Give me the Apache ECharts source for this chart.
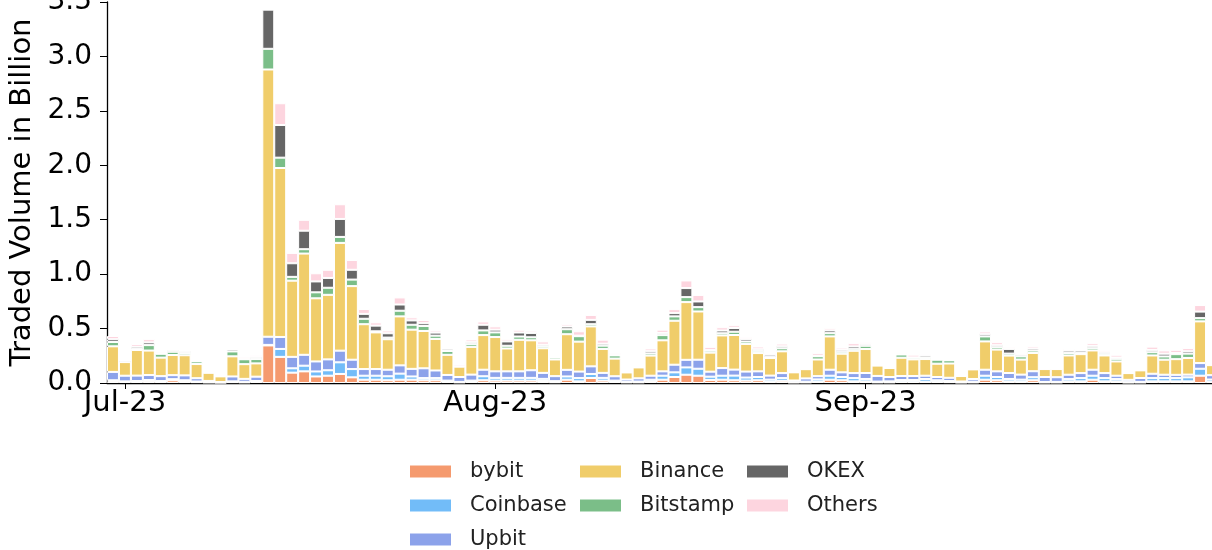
<!DOCTYPE html>
<html>
<head>
<meta charset="utf-8">
<script src="https://cdn.jsdelivr.net/npm/echarts@6/dist/echarts.min.js"></script>
<style>
  html, body { margin: 0; padding: 0; background: #fff; }
  #main { width: 1212px; height: 550px; }
</style>
</head>
<body>
<div id="main"></div>
<script>
// daily categories, 2023-06-30 .. 2023-09-30
const startDay = '2023-06-30'
const dayCount = 93
const days = []
for (let i = 0; i < dayCount; i++) {
  const d = new Date(startDay + 'T00:00:00Z')
  d.setUTCDate(d.getUTCDate() + i)
  days.push(d.toISOString().slice(0, 10))
}
const monthNames = ['Jan', 'Feb', 'Mar', 'Apr', 'May', 'Jun', 'Jul', 'Aug', 'Sep', 'Oct', 'Nov', 'Dec']
const yTicks = [0, 0.5, 1.0, 1.5, 2.0, 2.5, 3.0, 3.5]

// traded volume in billion, per exchange
const bybit = [
  0.015, 0.01, 0.01, 0.015, 0.01, 0.025, 0.015, 0.008, 0.004, 0.002, 0.008, 0.005, 0.01,
  0.345, 0.24, 0.095, 0.107, 0.06, 0.067, 0.083, 0.052, 0.03, 0.03, 0.025, 0.03, 0.03, 0.025,
  0.025, 0.01, 0.005, 0.01, 0.025,
  0.022, 0.022, 0.022, 0.022, 0.018, 0.007, 0.03, 0.015, 0.046, 0.022, 0.01, 0.005, 0.005,
  0.015, 0.03, 0.055, 0.076, 0.067, 0.028, 0.03, 0.025, 0.022, 0.025, 0.013, 0.02, 0.004,
  0.005, 0.013, 0.03, 0.025, 0.015,
  0.015, 0.005, 0.005, 0.012, 0.012, 0.012, 0.01, 0.008, 0.003, 0.005, 0.03, 0.025, 0.015,
  0.013, 0.025, 0.004, 0.004, 0.015, 0.015, 0.03, 0.015, 0.015, 0.003, 0.004, 0.015, 0.015,
  0.015, 0.015, 0.067, 0.012
]
const coinbase = [
  0.01, 0.005, 0.008, 0.012, 0.008, 0.01, 0.01, 0.006, 0.003, 0.002, 0.007, 0.006, 0.008,
  0.005, 0.073, 0.04, 0.052, 0.046, 0.05, 0.107, 0.076, 0.037, 0.037, 0.037, 0.056, 0.03, 0.02,
  0.02, 0.012, 0.005, 0.012, 0.037,
  0.025, 0.025, 0.025, 0.025, 0.02, 0.01, 0.03, 0.03, 0.037, 0.025, 0.012, 0.005, 0.008,
  0.015, 0.037, 0.043, 0.067, 0.064, 0.03, 0.037, 0.043, 0.028, 0.03, 0.018, 0.025, 0.004,
  0.007, 0.02, 0.037, 0.03, 0.03,
  0.022, 0.008, 0.01, 0.015, 0.015, 0.025, 0.015, 0.01, 0.003, 0.007, 0.037, 0.03, 0.022,
  0.018, 0.028, 0.005, 0.006, 0.021, 0.03, 0.037, 0.03, 0.021, 0.005, 0.006, 0.03, 0.03,
  0.03, 0.037, 0.064, 0.02
]
const upbit = [
  0.077, 0.052, 0.05, 0.046, 0.045, 0.037, 0.045, 0.03, 0.012, 0.005, 0.045, 0.027, 0.04,
  0.075, 0.11, 0.105, 0.1, 0.092, 0.1, 0.107, 0.086, 0.061, 0.061, 0.06, 0.076, 0.07, 0.09,
  0.07, 0.052, 0.045, 0.055, 0.06,
  0.06, 0.06, 0.06, 0.07, 0.055, 0.046, 0.061, 0.06, 0.07, 0.046, 0.04, 0.022, 0.03,
  0.037, 0.04, 0.07, 0.07, 0.083, 0.046, 0.07, 0.055, 0.055, 0.052, 0.037, 0.046, 0.015,
  0.03, 0.03, 0.055, 0.043, 0.046,
  0.055, 0.052, 0.04, 0.037, 0.037, 0.03, 0.03, 0.03, 0.008, 0.025, 0.055, 0.052, 0.055,
  0.046, 0.055, 0.046, 0.043, 0.04, 0.046, 0.055, 0.046, 0.031, 0.021, 0.036, 0.04, 0.031,
  0.03, 0.025, 0.052, 0.04
]
const binance = [
  0.235, 0.125, 0.235, 0.225, 0.17, 0.185, 0.185, 0.13, 0.075, 0.052, 0.185, 0.135, 0.122,
  2.455, 1.552, 0.70, 0.93, 0.58, 0.593, 0.99, 0.676, 0.412, 0.337, 0.28, 0.45, 0.36, 0.343,
  0.29, 0.185, 0.095, 0.255, 0.318,
  0.315, 0.21, 0.29, 0.275, 0.226, 0.153, 0.327, 0.275, 0.367, 0.22, 0.162, 0.065, 0.10,
  0.185, 0.285, 0.404, 0.53, 0.443, 0.175, 0.30, 0.318, 0.254, 0.168, 0.162, 0.20, 0.075,
  0.085, 0.153, 0.306, 0.171, 0.205,
  0.22, 0.095, 0.083, 0.168, 0.153, 0.153, 0.122, 0.131, 0.05, 0.088, 0.26, 0.20, 0.16,
  0.138, 0.168, 0.073, 0.075, 0.177, 0.174, 0.177, 0.162, 0.131, 0.062, 0.07, 0.168, 0.138,
  0.144, 0.153, 0.383, 0.092
]
const bitstamp = [
  0.04, 0.003, 0.01, 0.05, 0.035, 0.03, 0.02, 0.025, 0.002, 0.002, 0.045, 0.045, 0.04,
  0.19, 0.095, 0.035, 0.04, 0.055, 0.065, 0.055, 0.06, 0.05, 0.01, 0.015, 0.052, 0.045, 0.046,
  0.03, 0.035, 0.002, 0.025, 0.043,
  0.043, 0.025, 0.03, 0.028, 0.018, 0.018, 0.046, 0.05, 0.02, 0.03, 0.03, 0.003, 0.002,
  0.02, 0.048, 0.04, 0.046, 0.04, 0.018, 0.02, 0.03, 0.022, 0.02, 0.01, 0.028, 0.002,
  0.003, 0.03, 0.03, 0.018, 0.018,
  0.03, 0.002, 0.003, 0.03, 0.015, 0.015, 0.037, 0.03, 0.001, 0.002, 0.046, 0.022, 0.018,
  0.03, 0.022, 0.002, 0.002, 0.022, 0.01, 0.021, 0.015, 0.024, 0.001, 0.002, 0.03, 0.03,
  0.046, 0.04, 0.03, 0.005
]
const okex = [
  0.025, 0.012, 0.02, 0.025, 0.005, 0.015, 0.018, 0.005, 0.002, 0, 0.018, 0.004, 0.018,
  0.36, 0.30, 0.125, 0.17, 0.10, 0.09, 0.165, 0.09, 0.045, 0.052, 0.04, 0.057, 0.04, 0.025,
  0.028, 0.02, 0.002, 0.018, 0.052,
  0.025, 0.04, 0.037, 0.04, 0.015, 0.005, 0.025, 0.005, 0.04, 0.018, 0.005, 0.002, 0.005,
  0.02, 0.02, 0.03, 0.083, 0.052, 0.005, 0.025, 0.034, 0.022, 0.015, 0.02, 0.018, 0.002,
  0.002, 0.003, 0.025, 0.018, 0.022,
  0.015, 0, 0, 0.005, 0.003, 0.018, 0.002, 0.002, 0, 0.001, 0.02, 0.018, 0.043,
  0.015, 0.018, 0.002, 0.002, 0.022, 0.022, 0.021, 0.015, 0.012, 0.001, 0.002, 0.021, 0.025,
  0.01, 0.021, 0.06, 0.003
]
const others = [
  0.03, 0.005, 0.025, 0.03, 0.015, 0.008, 0.006, 0.01, 0.008, 0.004, 0.01, 0.018, 0.02,
  0, 0.20, 0.095, 0.10, 0.075, 0.075, 0.135, 0.09, 0.045, 0.03, 0.025, 0.065, 0.028, 0.03,
  0.02, 0.005, 0.02, 0.025, 0.03,
  0.03, 0.02, 0.025, 0.02, 0.03, 0.006, 0.02, 0.04, 0.045, 0.037, 0.015, 0.005, 0.01,
  0.025, 0.03, 0.037, 0.07, 0.06, 0.03, 0.03, 0.025, 0.018, 0.025, 0.015, 0.025, 0.004,
  0.005, 0.025, 0.02, 0.02, 0.03,
  0.018, 0.003, 0.003, 0.018, 0.025, 0.012, 0.003, 0.003, 0.002, 0.003, 0.025, 0.028, 0.015,
  0.015, 0.02, 0.005, 0.005, 0.015, 0.01, 0.025, 0.021, 0.025, 0.006, 0.008, 0.03, 0.03,
  0.03, 0.03, 0.06, 0.005
]

const exchanges = [
  { name: 'bybit', data: bybit, color: '#F59A6E' },
  { name: 'Coinbase', data: coinbase, color: '#72BCF8' },
  { name: 'Upbit', data: upbit, color: '#8CA2EA' },
  { name: 'Binance', data: binance, color: '#F0CD6A' },
  { name: 'Bitstamp', data: bitstamp, color: '#7BBE88' },
  { name: 'OKEX', data: okex, color: '#666666' },
  { name: 'Others', data: others, color: '#FDD5DF' }
]

const isMonthStart = (idx, val) => val.slice(8, 10) === '01'

// matplotlib-style legend: 3 columns filled top to bottom
const legendBase = {
  orient: 'vertical',
  padding: 0,
  height: 90,
  itemWidth: 43,
  itemHeight: 14,
  itemGap: 13,
  icon: 'rect',
  selectedMode: false,
  textStyle: {
    fontFamily: 'DejaVu Sans',
    fontSize: 21,
    lineHeight: 21,
    color: '#222',
    padding: [0, 0, 0, 13]
  }
}

const chart = echarts.init(document.getElementById('main'))
chart.setOption({
  animation: false,
  backgroundColor: '#fff',
  textStyle: { fontFamily: 'DejaVu Sans' },
  grid: { left: 107, right: -6, top: 2, bottom: 167, outerBoundsMode: 'none' },
  legend: [
    Object.assign({}, legendBase, { data: ['bybit', 'Coinbase', 'Upbit'], left: 408, top: 461 }),
    Object.assign({}, legendBase, { data: ['Binance', 'Bitstamp'], left: 578, top: 461 }),
    Object.assign({}, legendBase, { data: ['OKEX', 'Others'], left: 745, top: 461 })
  ],
  xAxis: {
    type: 'category',
    data: days,
    axisLine: { lineStyle: { color: '#000', width: 1.3 } },
    axisTick: { show: true, alignWithLabel: true, interval: isMonthStart, length: 6, lineStyle: { color: '#000' } },
    axisLabel: {
      interval: isMonthStart,
      margin: 6,
      fontSize: 29,
      color: '#000',
      formatter: function (val) {
        return monthNames[+val.slice(5, 7) - 1] + '-' + val.slice(2, 4)
      }
    },
    splitLine: { show: false }
  },
  yAxis: {
    type: 'value',
    min: yTicks[0],
    max: yTicks[yTicks.length - 1],
    interval: 0.5,
    name: 'Traded Volume in Billion',
    nameLocation: 'middle',
    nameRotate: 90,
    nameGap: 69,
    nameTextStyle: { fontSize: 29, color: '#000', fontFamily: 'DejaVu Sans' },
    axisLine: { show: true, lineStyle: { color: '#000', width: 1.3 } },
    axisTick: { show: true, length: 7, lineStyle: { color: '#000' } },
    axisLabel: {
      margin: 15,
      fontSize: 28,
      color: '#000',
      formatter: function (v) { return v.toFixed(1) }
    },
    splitLine: { show: false }
  },
  series: exchanges.map(function (ex) {
    return {
      name: ex.name,
      type: 'bar',
      stack: 'vol',
      data: ex.data,
      barCategoryGap: '0%',
      itemStyle: { color: ex.color, borderColor: '#fff', borderWidth: 1 }
    }
  })
})
</script>
</body>
</html>
